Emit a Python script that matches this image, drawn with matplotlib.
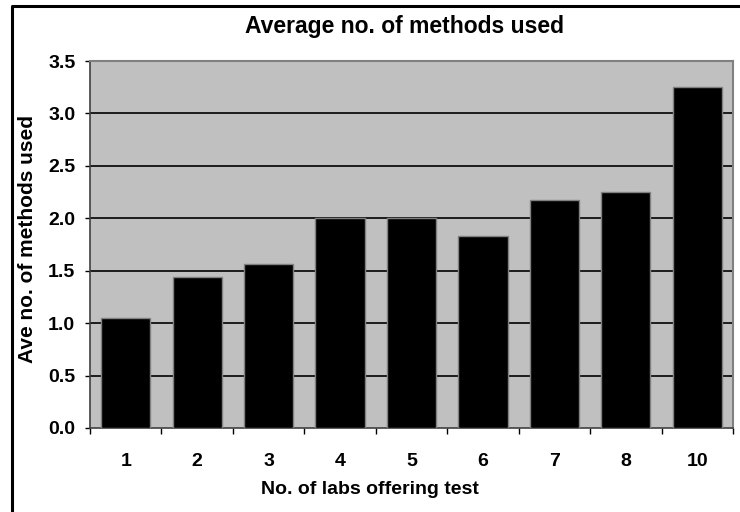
import numpy as np
import matplotlib
matplotlib.use("Agg")
import matplotlib.pyplot as plt
from matplotlib.lines import Line2D

plt.rcParams['font.family'] = ['Liberation Sans', 'DejaVu Sans']
plt.rcParams['font.weight'] = 'bold'

# data
labs = ["1", "2", "3", "4", "5", "6", "7", "8", "10"]
avg_methods = [1.05, 1.44, 1.56, 2.0, 2.0, 1.83, 2.17, 2.25, 3.25]
y_ticks = [0.0, 0.5, 1.0, 1.5, 2.0, 2.5, 3.0, 3.5]

fig = plt.figure(figsize=(7.4, 5.12), dpi=100)
ax = fig.add_axes([90 / 740, 1 - 428 / 512, 643 / 740, 367 / 512])

x = np.arange(len(labs))
ax.set_facecolor('#C0C0C0')
ax.bar(x, avg_methods, width=0.69, color='black', edgecolor='#808080',
       linewidth=1.0, zorder=3)

ax.set_xlim(-0.5, len(labs) - 0.5)
ax.set_ylim(0, 3.5)
ax.set_yticks(y_ticks)
ax.set_yticklabels([f"{v:.1f}" for v in y_ticks], fontsize=14, fontweight='bold')
ax.set_xticks(x)
ax.set_xticklabels(labs, fontsize=14, fontweight='bold')
ax.set_xticks(np.arange(-0.5, len(labs) + 0.5, 1), minor=True)
ax.tick_params(axis='x', which='major', length=0, pad=18)
ax.tick_params(axis='x', which='minor', length=4.5, width=1, direction='out')
ax.tick_params(axis='y', length=3.6, width=1, direction='out', pad=7)

for v in y_ticks[1:-1]:
    ax.axhline(v, color='black', linewidth=1.2, zorder=2)

for side in ['top', 'right']:
    ax.spines[side].set_color('#808080')
    ax.spines[side].set_linewidth(1.5)
for side in ['left', 'bottom']:
    ax.spines[side].set_color('#404040')
    ax.spines[side].set_linewidth(1.2)

ax.set_xlabel("No. of labs offering test", fontsize=14, fontweight='bold')
ax.xaxis.set_label_coords(0.435, -0.145)
ax.set_ylabel("Ave no. of methods used", fontsize=15, fontweight='bold')
ax.yaxis.set_label_coords(-0.083, 0.515)
fig.text(405 / 740, 1 - 33 / 512, "Average no. of methods used", ha='center',
         va='baseline', fontsize=16.5, fontweight='bold')

# outer chart border (cropped at right and bottom)
fig.add_artist(Line2D([12 / 740, 12 / 740, 1.0], [0.0, 1 - 6 / 512, 1 - 6 / 512],
                      transform=fig.transFigure, color='black', linewidth=2.2))

fig.savefig("out.png", dpi=100)
